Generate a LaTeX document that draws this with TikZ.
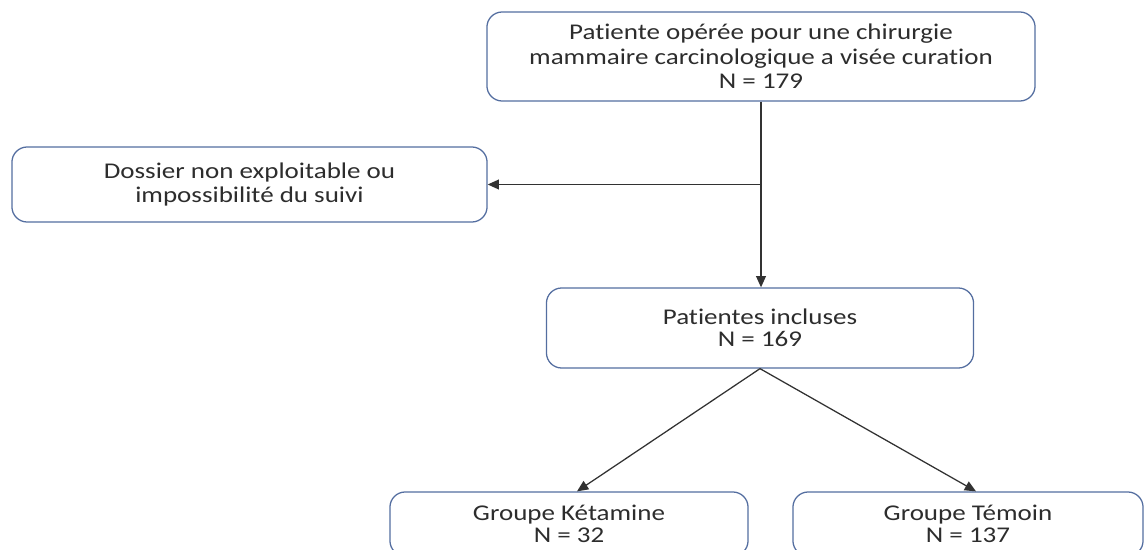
\documentclass[tikz,border=0pt]{standalone}
\usepackage{fontspec}
\setmainfont{Carlito}[FakeStretch=1.2, Ligatures=NoCommon]
\usetikzlibrary{arrows.meta, positioning}
\definecolor{boxblue}{RGB}{84,110,160}
\definecolor{txtgray}{RGB}{45,45,45}
\definecolor{linegray}{RGB}{50,50,50}

\begin{document}
\begin{tikzpicture}[x=0.025cm, y=-0.025cm,
  pbox/.style={rectangle, rounded corners=0.38cm, draw=boxblue, line width=0.9pt,
               fill=white, inner sep=0pt, align=center, text=txtgray,
               font=\fontsize{16}{17.4}\selectfont},
  sbox/.style={pbox, font=\fontsize{16}{15.6}\selectfont},
  arr/.style={-{Triangle[length=8pt, width=7pt]}, draw=linegray, line width=0.9pt}
]
\useasboundingbox (0,0) rectangle (1145,550);
\clip (0,0) rectangle (1145,550);
\node[pbox, minimum width=13.7cm, minimum height=2.225cm] (top) at (761,56.5)
  {Patiente opérée pour une chirurgie\\mammaire carcinologique a visée curation\\N = 179};
\node[pbox, minimum width=11.875cm, minimum height=1.875cm] (excl) at (249.5,184.5)
  {Dossier non exploitable ou\\impossibilité du suivi};
\node[sbox, minimum width=10.675cm, minimum height=2cm] (incl) at (760,328)
  {Patientes incluses\\N = 169};
\node[sbox, minimum width=8.95cm, minimum height=1.6cm] (keta) at (569,524)
  {Groupe Kétamine\\N = 32};
\node[sbox, minimum width=8.75cm, minimum height=1.6cm] (temo) at (968,524)
  {Groupe Témoin\\N = 137};
\coordinate (split) at (top.south |- excl.east);
\draw[arr] (top.south) -- (top.south |- incl.north);
\draw[arr] (split) -- (excl.east);
\draw[arr] (incl.south) -- ([xshift=0.2cm]keta.north);
\draw[arr] (incl.south) -- ([xshift=0.2cm]temo.north);
\end{tikzpicture}
\end{document}
